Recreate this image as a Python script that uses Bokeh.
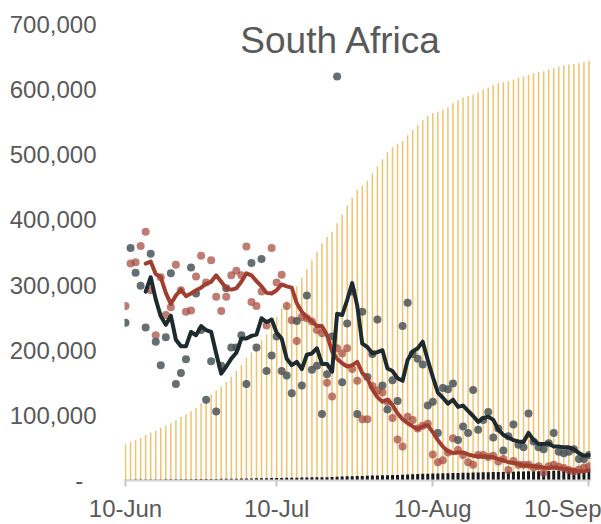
import numpy as np
from bokeh.plotting import figure
from bokeh.models import Range1d, FixedTicker, Label
from bokeh.embed import file_html
from bokeh.resources import INLINE

title_text = "South Africa"

# cumulative confirmed cases, 10 Jun .. 10 Sep (one value per day)
cumulative_cases = [
    55421, 58568, 61927, 65736, 70038, 73533, 76334, 80412, 83890, 87715,
    92681, 97302, 101590, 106108, 111796, 118375, 124590, 131800, 138134, 144264,
    151209, 159333, 168061, 177124, 187977, 196750, 205721, 215855, 224665, 238339,
    250687, 264184, 276242, 287796, 298292, 311049, 324221, 337594, 350879, 364328,
    373628, 381798, 394948, 408052, 421996, 434200, 445433, 452529, 459761, 471123,
    482169, 493183, 503290, 511485, 516862, 521318, 529877, 538184, 545476, 553188,
    559859, 563598, 566109, 568919, 572865, 579140, 583653, 587345, 589886, 592144,
    596060, 599940, 603338, 607045, 609773, 611450, 613017, 615701, 618286, 620132,
    622551, 625056, 627041, 628259, 630595, 633015, 635078, 636884, 638517, 639362,
    640441, 642431, 644438,
]

# cumulative deaths
cumulative_deaths = [
    1210, 1284, 1354, 1423, 1480, 1568, 1625, 1674, 1737, 1831,
    1877, 1930, 1991, 2102, 2205, 2292, 2340, 2413, 2456, 2529,
    2657, 2749, 2844, 2952, 3026, 3199, 3310, 3502, 3602, 3720,
    3860, 3971, 4079, 4172, 4346, 4453, 4669, 4804, 4948, 5033,
    5173, 5368, 5940, 6093, 6343, 6655, 6769, 7067, 7257, 7497,
    7812, 8005, 8153, 8366, 8539, 8884, 9298, 9604, 9909, 10210,
    10408, 10621, 10751, 11010, 11270, 11556, 11677, 11839, 11982, 12264,
    12423, 12618, 12843, 12987, 13059, 13159, 13308, 13502, 13743, 13981,
    14028, 14149, 14263, 14389, 14678, 14889, 15004, 15086, 15168, 15265,
    15427, 15499, 15641,
]

# daily grey dots
grey_dots = [
    242000, 357000, 319000, 299000, 235000, 348000, 213000, 177000, 220000, 318000,
    148000, 165000, 186000, 327000, 287000, 231000, 124000, 183000, 106000, 176000,
    295000, 204000, 204000, 223000, 148000, 334000, 204000, 340000, 168000, 192000,
    221000, 168000, 161000, 134000, 245000, 146000, 284000, 170000, 176000, 102000,
    163000, 221000, 620000, 151000, 241000, 290000, 102000, 259000, 159000, 194000,
    247000, 146000, 109000, 154000, 122000, 237000, 273000, 194000, 187000, 178000,
    115000, 121000, 73000, 142000, 140000, 149000, 62000, 83000, 73000, 139000,
    78000, 93000, 105000, 66000, 80000, 46000, 68000, 86000, 55000, 51000,
    103000, 60000, 51000, 48000, 57000, 73000, 44000, 42000, 44000, 48000,
    33000, 33000, 39000,
]

# daily red dots
red_dots = [
    268000, 333000, 335000, 360000, 382000, 292000, 223000, 312000, 254000, 266000,
    331000, 292000, 259000, 261000, 313000, 345000, 304000, 338000, 282000, 260000,
    282000, 315000, 322000, 315000, 359000, 274000, 268000, 290000, 238000, 357000,
    304000, 316000, 268000, 246000, 214000, 251000, 249000, 244000, 231000, 226000,
    150000, 129000, 203000, 195000, 203000, 171000, 153000, 94000, 94000, 145000,
    138000, 135000, 121000, 96000, 63000, 52000, 98000, 93000, 80000, 84000,
    87000, 40000, 28000, 31000, 43000, 65000, 47000, 39000, 28000, 24000,
    39000, 39000, 36000, 38000, 29000, 33000, 16000, 30000, 24000, 24000,
    24000, 20000, 22000, 12000, 22000, 24000, 21000, 19000, 16000, 14000,
    17000, 20000, 22000,
]

# rolling averages, starting 14 Jun
grey_avg = [
    290000, 312000, 278000, 252000, 239000, 253000, 216000, 206000, 206000, 228000,
    223000, 237000, 231000, 228000, 195000, 164000, 175000, 187000, 196000, 218000,
    218000, 222000, 224000, 249000, 243000, 247000, 227000, 218000, 187000, 177000,
    182000, 171000, 193000, 195000, 203000, 179000, 179000, 167000, 256000, 254000,
    277000, 303000, 268000, 210000, 205000, 195000, 197000, 200000, 172000, 168000,
    157000, 153000, 185000, 198000, 203000, 213000, 185000, 159000, 135000, 127000,
    118000, 124000, 113000, 115000, 107000, 99000, 90000, 96000, 98000, 93000,
    78000, 70000, 66000, 62000, 60000, 59000, 73000, 62000, 56000, 56000,
    57000, 52000, 52000, 51000, 51000, 48000, 42000, 38000, 39000,
]
red_avg = [
    333000, 336000, 317000, 312000, 288000, 271000, 284000, 293000, 283000, 287000,
    292000, 296000, 302000, 305000, 315000, 305000, 295000, 293000, 295000, 305000,
    318000, 315000, 306000, 298000, 288000, 287000, 292000, 301000, 298000, 296000,
    272000, 259000, 251000, 244000, 237000, 237000, 223000, 198000, 187000, 180000,
    175000, 177000, 182000, 165000, 157000, 140000, 128000, 121000, 124000, 116000,
    103000, 94000, 88000, 83000, 79000, 83000, 85000, 74000, 62000, 52000,
    45000, 42000, 43000, 43000, 40000, 38000, 37000, 37000, 36000, 36000,
    33000, 31000, 28000, 27000, 25000, 23000, 23000, 22000, 21000, 20000,
    19000, 20000, 19000, 18000, 17000, 16000, 14000, 14000, 16000,
]

y_ticks = [0, 100000, 200000, 300000, 400000, 500000, 600000, 700000]
y_tick_labels = ["-\u00a0\u00a0", "100,000", "200,000", "300,000", "400,000",
                 "500,000", "600,000", "700,000"]
x_tick_days = [0, 30, 61, 92]
x_tick_labels = ["10-Jun", "10-Jul", "10-Aug", "10-Sep"]

days = list(range(len(cumulative_cases)))
avg_start = len(days) - len(grey_avg)
avg_days = days[avg_start:]

FONT = "Liberation Sans"
TXT = "#595959"

p = figure(width=601, height=524, output_backend="svg", toolbar_location=None,
           x_range=Range1d(-0.2, 92.3), y_range=Range1d(0, 736800),
           min_border_left=124, min_border_right=11, min_border_top=0,
           min_border_bottom=43)
p.outline_line_color = None
p.grid.grid_line_color = None
p.background_fill_color = "white"
p.border_fill_color = "white"

ya = p.yaxis[0]
ya.ticker = FixedTicker(ticks=y_ticks)
ya.major_label_overrides = {t: l for t, l in zip(y_ticks, y_tick_labels)}
ya.axis_line_color = None
ya.major_tick_line_color = None
ya.minor_tick_line_color = None
ya.major_tick_out = 0
ya.major_tick_in = 0
ya.minor_tick_out = 0
ya.major_label_standoff = 28
ya.major_label_text_font = FONT
ya.major_label_text_font_size = "24px"
ya.major_label_text_color = TXT

xa = p.xaxis[0]
xa.ticker = FixedTicker(ticks=x_tick_days)
xa.major_label_overrides = {t: l for t, l in zip(x_tick_days, x_tick_labels)}
xa.axis_line_color = "#D4D4D4"
xa.axis_line_width = 2
xa.major_tick_line_color = "#C8C8C8"
xa.major_tick_line_width = 2
xa.major_tick_out = 6
xa.major_tick_in = 0
xa.minor_tick_line_color = None
xa.minor_tick_out = 0
xa.major_label_standoff = 8
xa.major_label_text_font = FONT
xa.major_label_text_font_size = "24px"
xa.major_label_text_color = TXT

p.vbar(x=days, top=cumulative_cases, bottom=0, width=0.3,
       fill_color="#F0C36E", line_color=None)
p.vbar(x=days, top=cumulative_deaths, bottom=0, width=0.6,
       fill_color="#1A1A1A", line_color=None)

p.scatter(x=days, y=np.array(red_dots, dtype=float), size=8,
          fill_color="#A5493D", fill_alpha=0.72, line_color=None)
p.scatter(x=days, y=np.array(grey_dots, dtype=float), size=8,
          fill_color="#4A555A", fill_alpha=0.85, line_color=None)

p.line(x=avg_days, y=red_avg, line_width=4, line_color="#A23E30",
       line_join="round", line_cap="round")
p.line(x=avg_days, y=grey_avg, line_width=4, line_color="#1E2B2E",
       line_join="round", line_cap="round")

p.add_layout(Label(x=42.8, y=675500, text=title_text, text_align="center",
                   text_baseline="alphabetic", text_font=FONT,
                   text_font_size="37px", text_color=TXT))

open("out.html", "w").write(file_html(p, INLINE))
